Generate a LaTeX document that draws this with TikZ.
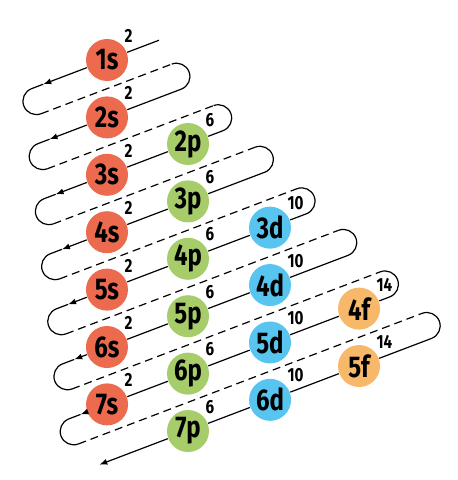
\documentclass[tikz,border=0pt]{standalone}
\usepackage{fontspec}
\newfontfamily\orbfont{Fira Sans}[FakeStretch=0.8]
\usetikzlibrary{arrows.meta}

\definecolor{sred}{HTML}{EC6A4E}
\definecolor{pgreen}{HTML}{A6CD69}
\definecolor{dblue}{HTML}{58C5F0}
\definecolor{forange}{HTML}{F8B86A}

\tikzset{
    orb/.style={circle, minimum size=42pt, inner sep=0pt, font=\orbfont\bfseries\fontsize{30}{30}\selectfont},
    sorb/.style={orb, fill=sred},
    porb/.style={orb, fill=pgreen},
    dorb/.style={orb, fill=dblue},
    forb/.style={orb, fill=forange},
    every label/.style={font=\orbfont\bfseries\fontsize{19}{19}\selectfont, inner sep=1pt},
    back/.style={dash pattern=on 8pt off 5pt},
    fill in/.style={-{Latex[length=8pt, width=6pt]}},
}

\begin{document}
\begin{tikzpicture}[x=1pt, y=1pt, line width=1.2pt, label distance=1pt]
    \useasboundingbox (0,0) rectangle (458,480);

    \begin{scope}[shift={(107,420)}, rotate=20.81]
        % orbitals, one row per line
        \node[sorb, label=45:2] (s1) at (0,0) {1s};
        \node[sorb, label=45:2] (s2) at (-20.4,-53.66) {2s};
        \node[sorb, label=45:2] (s3) at (-40.8,-107.32) {3s};
        \node[porb, label=45:6] (p2) at (45.9,-107.32) {2p};
        \node[sorb, label=45:2] (s4) at (-61.2,-160.98) {4s};
        \node[porb, label=45:6] (p3) at (25.5,-160.98) {3p};
        \node[sorb, label=45:2] (s5) at (-81.6,-214.64) {5s};
        \node[porb, label=45:6] (p4) at (5.1,-214.64) {4p};
        \node[dorb, label=45:10] (d3) at (92.8,-214.64) {3d};
        \node[sorb, label=45:2] (s6) at (-102,-268.3) {6s};
        \node[porb, label=45:6] (p5) at (-15.3,-268.3) {5p};
        \node[dorb, label=45:10] (d4) at (72.4,-268.3) {4d};
        \node[sorb, label=45:2] (s7) at (-122.3,-321.96) {7s};
        \node[porb, label=45:6] (p6) at (-35.7,-321.96) {6p};
        \node[dorb, label=45:10] (d5) at (52,-321.96) {5d};
        \node[forb, label=45:14] (f4) at (147.3,-321.96) {4f};
        \node[porb, label=45:6] (p7) at (-56.1,-375.62) {7p};
        \node[dorb, label=45:10] (d6) at (31.7,-375.62) {6d};
        \node[forb, label=45:14] (f5) at (126.9,-375.62) {5f};

        % turning points
        \coordinate (top) at (55.6,0);
        \coordinate (a1) at (-68.2,0);       \coordinate (l1) at (-80.7,0);
        \coordinate (m1) at (-80.7,-26.83);  \coordinate (r1) at (59.1,-26.83);
        \coordinate (a2) at (-81.9,-53.66);  \coordinate (l2) at (-94.4,-53.66);
        \coordinate (m2) at (-94.4,-80.49);  \coordinate (r2) at (83.4,-80.49);
        \coordinate (a3) at (-95.7,-107.32); \coordinate (l3) at (-108.2,-107.32);
        \coordinate (m3) at (-108.2,-134.15); \coordinate (r3) at (107.6,-134.15);
        \coordinate (a4) at (-109.4,-160.98); \coordinate (l4) at (-121.9,-160.98);
        \coordinate (m4) at (-121.9,-187.81); \coordinate (r4) at (131.8,-187.81);
        \coordinate (a5) at (-123.2,-214.64); \coordinate (l5) at (-135.7,-214.64);
        \coordinate (m5) at (-135.7,-241.47); \coordinate (r5) at (156,-241.47);
        \coordinate (a6) at (-137,-268.3);   \coordinate (l6) at (-149.5,-268.3);
        \coordinate (m6) at (-149.5,-295.13); \coordinate (r6) at (180.2,-295.13);
        \coordinate (a7) at (-150.7,-321.96); \coordinate (l7) at (-163.2,-321.96);
        \coordinate (m7) at (-163.2,-348.79); \coordinate (r7) at (204.5,-348.79);
        \coordinate (e8) at (-151,-375.62);

        % line 1
        \draw (top) -- (s1);
        \draw[fill in] (s1) -- (a1);
        \draw (a1) -- (l1) arc[start angle=90, end angle=270, radius=13.4];
        \draw[back] (m1) -- (r1);
        % line 2
        \draw (r1) arc[start angle=90, end angle=-90, radius=13.4] -- (s2);
        \draw[fill in] (s2) -- (a2);
        \draw (a2) -- (l2) arc[start angle=90, end angle=270, radius=13.4];
        \draw[back] (m2) -- (r2);
        % line 3
        \draw (r2) arc[start angle=90, end angle=-90, radius=13.4] -- (p2) -- (s3);
        \draw[fill in] (s3) -- (a3);
        \draw (a3) -- (l3) arc[start angle=90, end angle=270, radius=13.4];
        \draw[back] (m3) -- (r3);
        % line 4
        \draw (r3) arc[start angle=90, end angle=-90, radius=13.4] -- (p3) -- (s4);
        \draw[fill in] (s4) -- (a4);
        \draw (a4) -- (l4) arc[start angle=90, end angle=270, radius=13.4];
        \draw[back] (m4) -- (r4);
        % line 5
        \draw (r4) arc[start angle=90, end angle=-90, radius=13.4] -- (d3) -- (p4) -- (s5);
        \draw[fill in] (s5) -- (a5);
        \draw (a5) -- (l5) arc[start angle=90, end angle=270, radius=13.4];
        \draw[back] (m5) -- (r5);
        % line 6
        \draw (r5) arc[start angle=90, end angle=-90, radius=13.4] -- (d4) -- (p5) -- (s6);
        \draw[fill in] (s6) -- (a6);
        \draw (a6) -- (l6) arc[start angle=90, end angle=270, radius=13.4];
        \draw[back] (m6) -- (r6);
        % line 7
        \draw (r6) arc[start angle=90, end angle=-90, radius=13.4] -- (f4) -- (d5) -- (p6) -- (s7);
        \draw[fill in] (s7) -- (a7);
        \draw (a7) -- (l7) arc[start angle=90, end angle=270, radius=13.4];
        \draw[back] (m7) -- (r7);
        % line 8
        \draw[fill in] (r7) arc[start angle=90, end angle=-90, radius=13.4] -- (f5) -- (d6) -- (p7) -- (e8);
    \end{scope}
\end{tikzpicture}
\end{document}
